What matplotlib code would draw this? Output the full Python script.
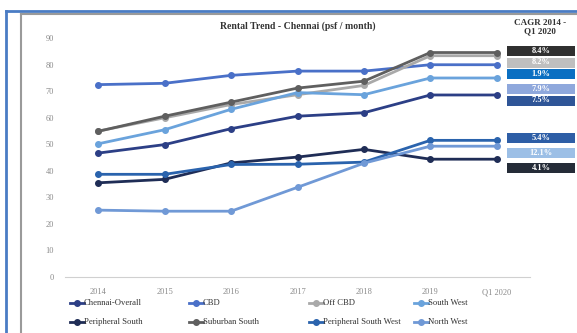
import matplotlib
matplotlib.use("Agg")
import matplotlib.pyplot as plt
from matplotlib.lines import Line2D
from matplotlib.patches import Rectangle

plt.rcParams['font.family'] = ['Liberation Serif', 'DejaVu Serif']

periods = ['2014', '2015', '2016', '2017', '2018', '2019', 'Q1 2020']

chennai_overall = [46.7, 49.9, 55.9, 60.6, 61.9, 68.6, 68.6]
cbd = [72.5, 73.0, 76.0, 77.6, 77.6, 80.0, 80.0]
off_cbd = [55.0, 60.0, 65.0, 68.7, 72.2, 83.4, 83.4]
south_west = [50.2, 55.5, 63.2, 69.5, 68.7, 75.0, 75.0]
peripheral_south = [35.5, 36.8, 43.0, 45.2, 48.1, 44.4, 44.4]
suburban_south = [54.9, 60.6, 65.9, 71.2, 73.8, 84.6, 84.6]
peripheral_sw = [38.7, 38.7, 42.4, 42.5, 43.3, 51.5, 51.5]
north_west = [25.2, 24.8, 24.8, 33.8, 42.9, 49.3, 49.3]

series = [
    ('Chennai-Overall', chennai_overall, '#2c3f86'),
    ('CBD', cbd, '#4a70c8'),
    ('Off CBD', off_cbd, '#a9a9a9'),
    ('South West', south_west, '#6aa3dc'),
    ('Peripheral South', peripheral_south, '#1f2d56'),
    ('Suburban South', suburban_south, '#5f5f5f'),
    ('Peripheral South West', peripheral_sw, '#2a63ad'),
    ('North West', north_west, '#7099d6'),
]

# CAGR tags on the right: text, box colour, box centre (pixel y from top)
cagr_labels = ['8.4%', '8.2%', '1.9%', '7.9%', '7.5%', '5.4%', '12.1%', '4.1%']
cagr_colors = ['#303030', '#bfbfbf', '#0a6fc2', '#8fa8dc', '#2f5597',
               '#2e5ea6', '#9cbfe6', '#252c38']
cagr_ypix = [51, 62.5, 74, 89, 100.5, 138, 152.5, 168]

W, H = 577, 333
fig = plt.figure(figsize=(W / 100, H / 100), dpi=100)
fig.patch.set_facecolor('white')

ax = fig.add_axes([65 / W, 1 - 277 / H, (530 - 65) / W, (277 - 38.2) / H])
x = list(range(len(periods)))
for name, vals, col in series:
    ax.plot(x, vals, color=col, lw=2.0, marker='o', ms=4, label=name)

ax.set_xlim(-0.5, 6.5)
ax.set_ylim(0, 90)
ax.set_yticks(range(0, 91, 10))
ax.set_xticks(x)
ax.set_xticklabels(periods)
for s in ['top', 'right', 'left']:
    ax.spines[s].set_visible(False)
ax.spines['bottom'].set_color('#d0d0d0')
ax.tick_params(axis='both', length=0, labelsize=6, colors='#8a8a8a')
ax.tick_params(axis='y', pad=8)
ax.tick_params(axis='x', pad=8)

fig.text(298 / W, 1 - 26 / H, 'Rental Trend - Chennai (psf / month)',
         ha='center', va='center', fontsize=7, fontweight='bold', color='#333333')
fig.text(540 / W, 1 - 27 / H, 'CAGR 2014 -\nQ1 2020', ha='center', va='center',
         fontsize=6.5, fontweight='bold', color='#333333', linespacing=1.1)

# CAGR boxes
for lab, col, yp in zip(cagr_labels, cagr_colors, cagr_ypix):
    fig.patches.append(Rectangle((507 / W, 1 - (yp + 5) / H), 68 / W, 10 / H,
                                 transform=fig.transFigure, facecolor=col,
                                 edgecolor='none'))
    fig.text(541 / W, 1 - yp / H, lab, ha='center', va='center', fontsize=6,
             fontweight='bold', color='white')

# legend drawn by hand: two rows of four, fixed column starts
col_x = [70, 189, 309, 414]
row_y = [303, 322]
for i, (name, _, col) in enumerate(series):
    lx = col_x[i % 4]
    ly = 1 - row_y[i // 4] / H
    fig.add_artist(Line2D([lx / W, (lx + 14) / W], [ly, ly], color=col, lw=2,
                          transform=fig.transFigure))
    fig.add_artist(Line2D([(lx + 7) / W], [ly], color=col, marker='o', ms=4,
                          transform=fig.transFigure))
    fig.text((lx + 14) / W, ly, name, ha='left', va='center', fontsize=6.2,
             color='#333333')

# slide frame
fig.add_artist(Line2D([6 / W, 6 / W], [0, 1 - 11 / H], color='#4a7cc4', lw=2,
                      transform=fig.transFigure))
fig.add_artist(Line2D([6 / W, 1], [1 - 11 / H, 1 - 11 / H], color='#4a7cc4', lw=2,
                      transform=fig.transFigure))
fig.add_artist(Line2D([21 / W, 21 / W], [0, 1 - 14 / H], color='#9a9a9a', lw=1.5,
                      transform=fig.transFigure))
fig.add_artist(Line2D([21 / W, 1], [1 - 14 / H, 1 - 14 / H], color='#9a9a9a', lw=1.5,
                      transform=fig.transFigure))

fig.savefig('out.png', dpi=100)
